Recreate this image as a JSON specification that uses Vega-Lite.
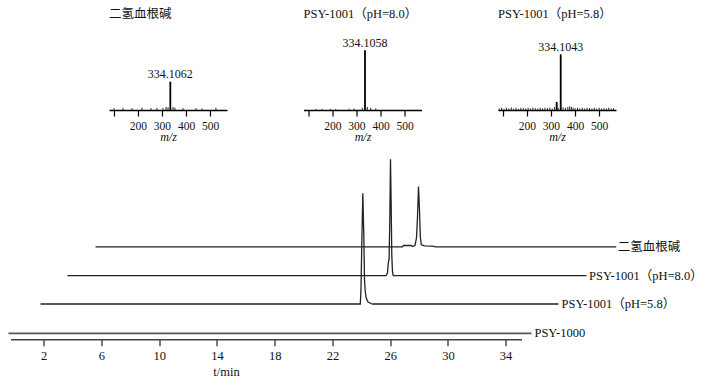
{
  "$schema": "https://vega.github.io/schema/vega-lite/v6.json",
  "padding": {"left": 4.5, "top": 7, "right": 2, "bottom": 2},
  "background": "white",
  "config": {
    "view": {"stroke": null},
    "font": "Liberation Serif, Noto Sans CJK SC",
    "axis": {"grid": false, "labelColor": "#111", "titleColor": "#111", "titleFontWeight": "normal"},
    "title": {"fontWeight": "normal", "color": "#111"}
  },
  "datasets": {
    "ms1_peak": [{"mz": 334.6, "intensity": 37.7}],
    "ms1_label": [{"mz": 334.6, "intensity": 37.7, "label": "334.1062"}],
    "ms1_noise": [
      {"mz": 100.8, "intensity": 2.5}, {"mz": 138, "intensity": 3}, {"mz": 175.5, "intensity": 2.5},
      {"mz": 217, "intensity": 3}, {"mz": 254, "intensity": 2.5}, {"mz": 279, "intensity": 3},
      {"mz": 304, "intensity": 2.5}, {"mz": 317, "intensity": 4}, {"mz": 325, "intensity": 3.5},
      {"mz": 346, "intensity": 4}, {"mz": 354, "intensity": 3}, {"mz": 387, "intensity": 2.5},
      {"mz": 441, "intensity": 2.5}, {"mz": 466, "intensity": 2}, {"mz": 524, "intensity": 3}
    ],
    "ms2_peak": [{"mz": 335.4, "intensity": 79.6}],
    "ms2_label": [{"mz": 335.4, "intensity": 79.6, "label": "334.1058"}],
    "ms2_noise": [
      {"mz": 131, "intensity": 1.5}, {"mz": 157, "intensity": 1.5}, {"mz": 193, "intensity": 1.5},
      {"mz": 214, "intensity": 1.5}, {"mz": 269, "intensity": 1.5}, {"mz": 290, "intensity": 2},
      {"mz": 324, "intensity": 3}, {"mz": 345, "intensity": 4}, {"mz": 359, "intensity": 3},
      {"mz": 380, "intensity": 2}
    ],
    "ms3_peak": [{"mz": 340.4, "intensity": 74.3}, {"mz": 323.8, "intensity": 10.7}],
    "ms3_label": [{"mz": 340.4, "intensity": 74.3, "label": "334.1043"}],
    "ms3_noise": [
      {"mz": 85, "intensity": 2}, {"mz": 95, "intensity": 3}, {"mz": 105, "intensity": 1.5},
      {"mz": 115, "intensity": 3}, {"mz": 125, "intensity": 2}, {"mz": 135, "intensity": 3.5},
      {"mz": 145, "intensity": 2}, {"mz": 155, "intensity": 3}, {"mz": 165, "intensity": 1.5},
      {"mz": 175, "intensity": 3}, {"mz": 185, "intensity": 2.5}, {"mz": 195, "intensity": 2},
      {"mz": 205, "intensity": 3}, {"mz": 215, "intensity": 2}, {"mz": 225, "intensity": 3},
      {"mz": 235, "intensity": 2.5}, {"mz": 245, "intensity": 2}, {"mz": 255, "intensity": 3},
      {"mz": 265, "intensity": 2}, {"mz": 275, "intensity": 3}, {"mz": 285, "intensity": 2.5},
      {"mz": 295, "intensity": 3}, {"mz": 305, "intensity": 2}, {"mz": 315, "intensity": 4},
      {"mz": 330, "intensity": 3}, {"mz": 350, "intensity": 3.5}, {"mz": 360, "intensity": 3},
      {"mz": 370, "intensity": 4}, {"mz": 378, "intensity": 5}, {"mz": 385, "intensity": 4},
      {"mz": 392, "intensity": 3}, {"mz": 400, "intensity": 2.5}, {"mz": 410, "intensity": 3},
      {"mz": 420, "intensity": 2}, {"mz": 430, "intensity": 3}, {"mz": 440, "intensity": 2},
      {"mz": 450, "intensity": 3}, {"mz": 460, "intensity": 2.5}, {"mz": 470, "intensity": 2},
      {"mz": 480, "intensity": 3}, {"mz": 490, "intensity": 2}, {"mz": 500, "intensity": 3},
      {"mz": 510, "intensity": 2}, {"mz": 520, "intensity": 2.5}, {"mz": 530, "intensity": 2},
      {"mz": 540, "intensity": 3}, {"mz": 550, "intensity": 2}, {"mz": 560, "intensity": 2.5}
    ],
    "psy1000": [{"t": -0.44, "signal": 0}, {"t": 35.79, "signal": 0}],
    "ph58": [
      {"t": -0.3, "signal": 0}, {"t": 21.854, "signal": 0}, {"t": 21.903, "signal": 15},
      {"t": 21.958, "signal": 60}, {"t": 22.028, "signal": 110.7}, {"t": 22.097, "signal": 70},
      {"t": 22.145, "signal": 24}, {"t": 22.201, "signal": 12}, {"t": 22.263, "signal": 6},
      {"t": 22.388, "signal": 2}, {"t": 22.596, "signal": 0.5}, {"t": 22.7, "signal": 0},
      {"t": 35.585, "signal": 0}
    ],
    "ph80": [
      {"t": -0.369, "signal": 0}, {"t": 21.695, "signal": 0}, {"t": 21.799, "signal": 3},
      {"t": 21.848, "signal": 12}, {"t": 21.91, "signal": 17}, {"t": 21.958, "signal": 55},
      {"t": 22.007, "signal": 116.4}, {"t": 22.055, "signal": 70}, {"t": 22.097, "signal": 20},
      {"t": 22.145, "signal": 4}, {"t": 22.194, "signal": 0}, {"t": 35.585, "signal": 0}
    ],
    "dhs": [
      {"t": -0.439, "signal": 0}, {"t": 20.829, "signal": 0}, {"t": 20.898, "signal": 1.3},
      {"t": 21.418, "signal": 1.3}, {"t": 21.522, "signal": 0.3}, {"t": 21.695, "signal": 1.5},
      {"t": 21.799, "signal": 9}, {"t": 21.868, "signal": 30}, {"t": 21.938, "signal": 60.2},
      {"t": 22.007, "signal": 37}, {"t": 22.062, "signal": 10}, {"t": 22.132, "signal": 2},
      {"t": 22.353, "signal": 1}, {"t": 22.907, "signal": 0.6}, {"t": 23.115, "signal": 0},
      {"t": 35.634, "signal": 0}
    ],
    "labels": [
      {"series": "psy1000", "t": 35.79, "signal": 0, "label": "PSY-1000"},
      {"series": "ph58", "t": 35.585, "signal": 0, "label": "PSY-1001（pH=5.8）"},
      {"series": "ph80", "t": 35.585, "signal": 0, "label": "PSY-1001（pH=8.0）"},
      {"series": "dhs", "t": 35.634, "signal": 0, "label": "二氢血根碱"}
    ]
  },
  "bounds": "flush",
  "spacing": 115.3,
  "vconcat": [
    {
      "bounds": "flush",
      "spacing": 76.5,
      "hconcat": [
        {"width": 21.5, "height": 75, "data": {"values": []}, "mark": "point"},
        {
          "width": 118, "height": 75,
          "title": {"text": "二氢血根碱", "anchor": "start", "fontSize": 12.5, "offset": 15},
          "encoding": {
            "x": {"field": "mz", "type": "quantitative", "scale": {"domain": [80, 570], "nice": false, "zero": false},
              "axis": {"values": [100, 200, 300, 400, 500], "labelExpr": "datum.value == 100 ? '' : datum.label", "title": "m/z", "titleFontStyle": "italic", "titleFontSize": 12, "labelFontSize": 11.5, "tickSize": 6, "labelPadding": 4, "titlePadding": 0, "domainColor": "#000", "domainWidth": 1.5, "tickColor": "#000", "tickWidth": 1.2}},
            "y": {"field": "intensity", "type": "quantitative", "scale": {"domain": [0, 100]}, "axis": null}
          },
          "layer": [
            {"data": {"name": "ms1_noise"}, "mark": {"type": "rule", "color": "#222", "strokeWidth": 1}, "encoding": {"y2": {"datum": 0}}},
            {"data": {"name": "ms1_peak"}, "mark": {"type": "rule", "color": "#000", "strokeWidth": 1.8}, "encoding": {"y2": {"datum": 0}}},
            {"data": {"name": "ms1_label"}, "mark": {"type": "text", "dy": -4, "baseline": "alphabetic", "fontSize": 12, "color": "#111"}, "encoding": {"text": {"field": "label"}}}
          ]
        },
        {
          "width": 118, "height": 75,
          "title": {"text": "PSY-1001（pH=8.0）", "anchor": "start", "fontSize": 12.5, "offset": 15},
          "encoding": {
            "x": {"field": "mz", "type": "quantitative", "scale": {"domain": [80, 570], "nice": false, "zero": false},
              "axis": {"values": [100, 200, 300, 400, 500], "labelExpr": "datum.value == 100 ? '' : datum.label", "title": "m/z", "titleFontStyle": "italic", "titleFontSize": 12, "labelFontSize": 11.5, "tickSize": 6, "labelPadding": 4, "titlePadding": 0, "domainColor": "#000", "domainWidth": 1.5, "tickColor": "#000", "tickWidth": 1.2}},
            "y": {"field": "intensity", "type": "quantitative", "scale": {"domain": [0, 100]}, "axis": null}
          },
          "layer": [
            {"data": {"name": "ms2_noise"}, "mark": {"type": "rule", "color": "#222", "strokeWidth": 1}, "encoding": {"y2": {"datum": 0}}},
            {"data": {"name": "ms2_peak"}, "mark": {"type": "rule", "color": "#000", "strokeWidth": 1.8}, "encoding": {"y2": {"datum": 0}}},
            {"data": {"name": "ms2_label"}, "mark": {"type": "text", "dy": -3.5, "baseline": "alphabetic", "fontSize": 12, "color": "#111"}, "encoding": {"text": {"field": "label"}}}
          ]
        },
        {
          "width": 118, "height": 75,
          "title": {"text": "PSY-1001（pH=5.8）", "anchor": "start", "fontSize": 12.5, "offset": 15},
          "encoding": {
            "x": {"field": "mz", "type": "quantitative", "scale": {"domain": [80, 570], "nice": false, "zero": false},
              "axis": {"values": [100, 200, 300, 400, 500], "labelExpr": "datum.value == 100 ? '' : datum.label", "title": "m/z", "titleFontStyle": "italic", "titleFontSize": 12, "labelFontSize": 11.5, "tickSize": 6, "labelPadding": 4, "titlePadding": 0, "domainColor": "#000", "domainWidth": 1.5, "tickColor": "#000", "tickWidth": 1.2}},
            "y": {"field": "intensity", "type": "quantitative", "scale": {"domain": [0, 100]}, "axis": null}
          },
          "layer": [
            {"data": {"name": "ms3_noise"}, "mark": {"type": "rule", "color": "#222", "strokeWidth": 1}, "encoding": {"y2": {"datum": 0}}},
            {"data": {"name": "ms3_peak"}, "mark": {"type": "rule", "color": "#000", "strokeWidth": 1.8}, "encoding": {"y2": {"datum": 0}}},
            {"data": {"name": "ms3_label"}, "mark": {"type": "text", "dy": -3, "baseline": "alphabetic", "fontSize": 12, "color": "#111"}, "encoding": {"text": {"field": "label"}}}
          ]
        }
      ]
    },
    {
      "width": 511, "height": 183,
      "encoding": {
        "x": {"field": "t", "type": "quantitative", "scale": {"domain": [-0.3, 35.1], "nice": false, "zero": false},
          "axis": {"values": [2, 6, 10, 14, 18, 22, 26, 30, 34], "title": "t/min", "titleX": 215.5, "titleFontSize": 12.5, "labelFontSize": 12.5, "tickSize": 6.5, "labelPadding": 4, "titlePadding": 3, "offset": 6, "domainColor": "#444", "domainWidth": 1.6, "tickColor": "#222", "tickWidth": 1.2}},
        "y": {"field": "signal", "type": "quantitative", "scale": {"domain": [0, 183]}, "axis": null}
      },
      "layer": [
        {"data": {"name": "psy1000"}, "mark": {"type": "line", "color": "#555", "strokeWidth": 1.7}},
        {"data": {"name": "ph58"}, "mark": {"type": "line", "color": "#222", "strokeWidth": 1.3, "xOffset": 30, "yOffset": -29.3}},
        {"data": {"name": "ph80"}, "mark": {"type": "line", "color": "#222", "strokeWidth": 1.3, "xOffset": 58, "yOffset": -57.6}},
        {"data": {"name": "dhs"}, "mark": {"type": "line", "color": "#222", "strokeWidth": 1.3, "xOffset": 87, "yOffset": -86.5}},
        {"data": {"name": "labels"}, "transform": [{"filter": "datum.series == 'psy1000'"}], "mark": {"type": "text", "align": "left", "baseline": "middle", "dx": 3, "fontSize": 12.5, "color": "#111"}, "encoding": {"text": {"field": "label"}}},
        {"data": {"name": "labels"}, "transform": [{"filter": "datum.series == 'ph58'"}], "mark": {"type": "text", "align": "left", "baseline": "middle", "dx": 3, "xOffset": 30, "yOffset": -29.3, "fontSize": 12.5, "color": "#111"}, "encoding": {"text": {"field": "label"}}},
        {"data": {"name": "labels"}, "transform": [{"filter": "datum.series == 'ph80'"}], "mark": {"type": "text", "align": "left", "baseline": "middle", "dx": 2.5, "xOffset": 58, "yOffset": -57.6, "fontSize": 12.5, "color": "#111"}, "encoding": {"text": {"field": "label"}}},
        {"data": {"name": "labels"}, "transform": [{"filter": "datum.series == 'dhs'"}], "mark": {"type": "text", "align": "left", "baseline": "middle", "dx": 1.5, "xOffset": 87, "yOffset": -86.5, "fontSize": 12.5, "color": "#111"}, "encoding": {"text": {"field": "label"}}}
      ]
    }
  ]
}
